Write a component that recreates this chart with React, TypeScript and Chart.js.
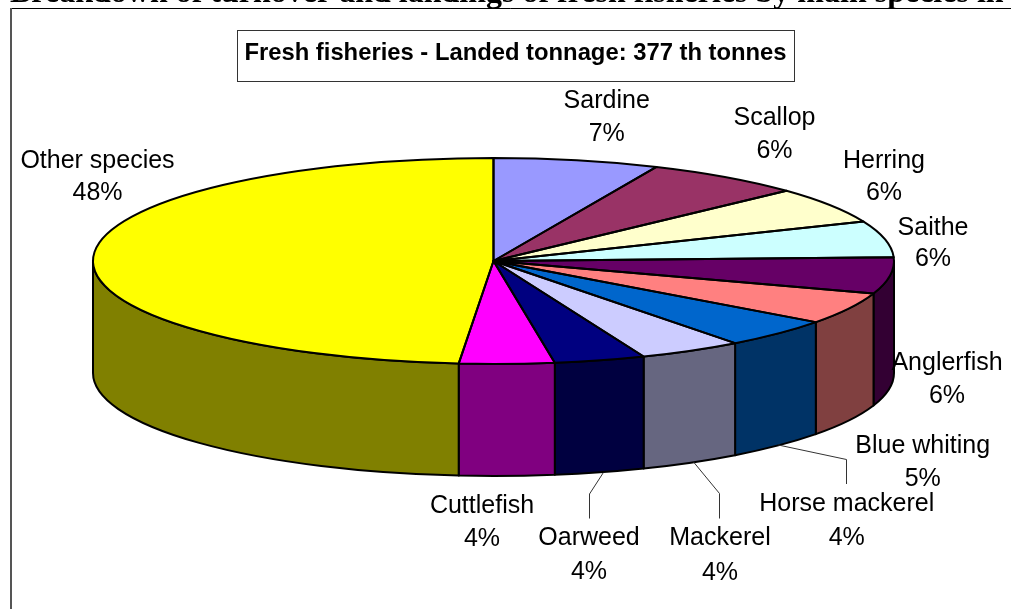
import React, { useEffect, useRef } from "react";
import { Chart, registerables } from "chart.js";

Chart.register(...registerables);

const categories = ["Sardine", "Scallop", "Herring", "Saithe", "Anglerfish", "Blue whiting", "Horse mackerel", "Mackerel", "Oarweed", "Cuttlefish", "Other species"];
const shares = [6.67, 6.39, 5.69, 5.67, 5.69, 5.0, 4.58, 4.19, 3.67, 3.83, 48.61];
const shareLabels = ["7%", "6%", "6%", "6%", "6%", "5%", "4%", "4%", "4%", "4%", "48%"];
const topColors = ["#9999FF", "#993366", "#FFFFCC", "#CCFFFF", "#660066", "#FF8080", "#0066CC", "#CCCCFF", "#000080", "#FF00FF", "#FFFF00"];
const sideColors = ["#4D4D80", "#4D1A33", "#808066", "#668080", "#330033", "#804040", "#003366", "#666680", "#000040", "#800080", "#808000"];
const headerText = "Breakdown of turnover and landings of fresh fisheries by main species in";
const boxTitle = "Fresh fisheries - Landed tonnage: 377 th tonnes";

const CX = 493.5, CY = 261, RX = 400.5, RY = 103, DEPTH = 112;
const LABEL_FONT = '25px "Liberation Sans", Arial, sans-serif';
const labelSpots: [number, number, number][] = [
  [606.7, 101, 134], [774.5, 118, 151], [884, 161, 193], [933, 228, 259],
  [947, 363, 396], [922.7, 446, 479], [846.7, 504, 538], [720, 538, 573],
  [589, 538, 572], [482, 506, 539], [97.5, 161, 193],
];
const leaders: [number, number][][] = [
  [[778.3, 445], [846.5, 459.5], [846.5, 484]],
  [[693.3, 461.7], [719.5, 493.5], [719.5, 518.5]],
  [[603.3, 472.7], [589.5, 494], [589.5, 518.5]],
];

const pie3d = {
  id: "pie3d",
  beforeDatasetsDraw(chart: any) {
    const ctx = chart.ctx as CanvasRenderingContext2D;
    const arcs = chart.getDatasetMeta(0).data;
    ctx.save();
    ctx.lineWidth = 2;
    ctx.strokeStyle = "#000";
    ctx.lineJoin = "round";
    arcs.forEach((arc: any, i: number) => {
      const a = Math.max(arc.startAngle, 0);
      const b = Math.min(arc.endAngle, Math.PI);
      if (b <= a) return;
      ctx.beginPath();
      ctx.ellipse(CX, CY, RX, RY, 0, a, b);
      ctx.ellipse(CX, CY + DEPTH, RX, RY, 0, b, a, true);
      ctx.closePath();
      ctx.fillStyle = sideColors[i];
      ctx.fill();
      ctx.stroke();
    });
    ctx.restore();
    const first = arcs[0];
    ctx.save();
    ctx.translate(CX, CY);
    ctx.scale(RX / first.outerRadius, RY / first.outerRadius);
    ctx.translate(-first.x, -first.y);
  },
  afterDatasetsDraw(chart: any) {
    const ctx = chart.ctx as CanvasRenderingContext2D;
    ctx.restore();
    const arcs = chart.getDatasetMeta(0).data;
    ctx.save();
    ctx.lineWidth = 2;
    ctx.strokeStyle = "#000";
    ctx.lineJoin = "round";
    arcs.forEach((arc: any) => {
      ctx.beginPath();
      ctx.moveTo(CX, CY);
      ctx.ellipse(CX, CY, RX, RY, 0, arc.startAngle, arc.endAngle);
      ctx.closePath();
      ctx.stroke();
    });
    ctx.restore();

    ctx.save();
    ctx.lineWidth = 1;
    ctx.strokeStyle = "#333";
    leaders.forEach((pts) => {
      ctx.beginPath();
      pts.forEach(([x, y], k) => (k ? ctx.lineTo(x, y) : ctx.moveTo(x, y)));
      ctx.stroke();
    });
    ctx.fillStyle = "#000";
    ctx.font = LABEL_FONT;
    ctx.textAlign = "center";
    ctx.textBaseline = "middle";
    categories.forEach((name, i) => {
      const [x, y1, y2] = labelSpots[i];
      ctx.fillText(name, x, y1);
      ctx.fillText(shareLabels[i], x, y2);
    });

    ctx.fillStyle = "#fff";
    ctx.fillRect(237.5, 30.5, 557, 51);
    ctx.strokeStyle = "#333";
    ctx.strokeRect(237.5, 30.5, 557, 51);
    ctx.fillStyle = "#000";
    ctx.font = 'bold 23.8px "Liberation Sans", Arial, sans-serif';
    ctx.fillText(boxTitle, 515.5, 53);

    ctx.strokeStyle = "#000";
    ctx.lineWidth = 1;
    ctx.beginPath();
    ctx.moveTo(10.5, 8.5);
    ctx.lineTo(1011, 8.5);
    ctx.stroke();
    ctx.strokeStyle = "#555";
    ctx.lineWidth = 2;
    ctx.beginPath();
    ctx.moveTo(11, 8);
    ctx.lineTo(11, 609);
    ctx.stroke();

    ctx.fillStyle = "#000";
    ctx.font = 'bold 32px "Liberation Serif", "Times New Roman", serif';
    ctx.textAlign = "left";
    ctx.textBaseline = "alphabetic";
    ctx.fillText(headerText, 10, 2);
    ctx.restore();
  },
};

export default function App() {
  const ref = useRef<HTMLCanvasElement | null>(null);
  useEffect(() => {
    const chart = new Chart(ref.current as HTMLCanvasElement, {
      type: "pie",
      data: {
        labels: categories,
        datasets: [{ data: shares, backgroundColor: topColors, borderWidth: 0 }],
      },
      options: {
        responsive: false,
        animation: false,
        plugins: { legend: { display: false }, tooltip: { enabled: false }, title: { display: false } },
      },
      plugins: [pie3d],
    } as any);
    return () => chart.destroy();
  }, []);
  return (
    <div style={{ position: "absolute", left: 0, top: 0, width: 1011, height: 609, background: "#fff", overflow: "hidden" }}>
      <canvas ref={ref} width={1011} height={609} style={{ display: "block" }} />
    </div>
  );
}
